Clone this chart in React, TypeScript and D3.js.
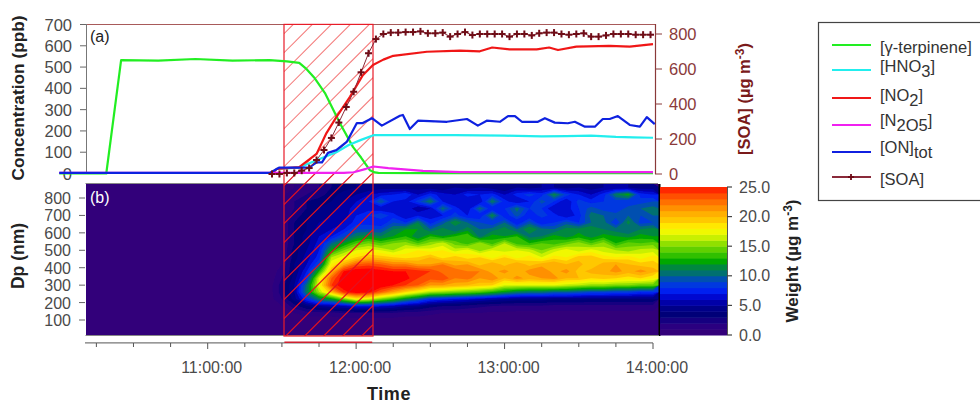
import React from "react";
import * as d3 from "d3";

// minutes after 10:00
const terpT = [0, 19, 25, 40, 55, 70, 85, 92, 97, 100, 103.3, 107.4, 113.4, 118.7, 122, 125.6, 127.5, 129, 150, 240];
const terpV = [0, 0, 533, 530, 538, 530, 533, 527, 520, 490, 447, 378, 237, 125, 75, 15, 5, 3, 2, 2];
const hno3T = [86, 88, 97, 104, 112, 117, 122, 127, 131, 160, 180, 195, 205, 215, 225, 232, 240];
const hno3V = [0, 22, 28, 62, 100, 134, 158, 180, 180, 180, 178, 174, 176, 178, 172, 170, 168];
const no2T = [86, 88, 97, 104, 108, 112, 117.5, 122.7, 126.8, 131, 135, 148.6, 162, 170, 175, 182, 193, 198, 201.6, 209, 222.5, 230.6, 240];
const no2V = [0, 22, 30, 92, 190, 265, 360, 462, 510, 535, 553, 572, 577, 574, 592, 583, 583, 592, 580, 596, 600, 596, 608];
const n2o5T = [0, 115, 119, 124, 127, 133, 147, 162, 240];
const n2o5V = [3, 3, 6, 22, 33, 25, 12, 6, 6];
const ontotT = [0, 85, 87, 89, 101, 104, 106.2, 108.6, 112, 116.3, 120.3, 122.7, 126.4, 130.4, 137.7, 138.9, 141.7, 145, 156.7, 164.8, 169.2, 172.8, 178.1, 181.4, 184.2, 187, 193.5, 196.3, 200.3, 205.6, 208.4, 212.5, 216.5, 219.7, 222.5, 225.8, 230.6, 234.7, 237.5, 240.7];
const ontotV = [3, 3, 15, 28, 28, 52, 52, 97, 110, 150, 237, 237, 260, 225, 271, 275, 209, 248, 243, 256, 225, 248, 243, 270, 270, 243, 243, 260, 239, 236, 243, 220, 220, 256, 256, 270, 228, 220, 265, 232];
const soaT = d3.range(86, 241, 3);
const soaV = [0, 0, 6, 6, 19, 34, 80, 137, 206, 294, 383, 470, 581, 690, 771,
  800, 808, 808, 811, 811, 815, 804, 804, 808, 785, 800, 811, 794, 800, 800, 800, 800, 785, 800, 800, 792, 804, 808, 808, 800, 796, 800, 804, 785, 785, 792, 800, 800, 800, 796, 796, 796];

const leftTicks = [0, 100, 200, 300, 400, 500, 600, 700];
const rightTicks = [0, 200, 400, 600, 800];
const dpTicks = [100, 200, 300, 400, 500, 600, 700, 800];
const weightTicks = [0, 5, 10, 15, 20, 25];
const timeMajor = [60, 120, 180, 240];
const timeLabels = ["11:00:00", "12:00:00", "13:00:00", "14:00:00"];
const timeMinor = [15, 30, 45, 75, 90, 105, 135, 150, 165, 195, 210, 225];

// size rows (nm), top to bottom
const heatDp = [860, 820, 780, 740, 700, 660, 620, 580, 540, 500, 460, 420, 380, 340, 300, 260, 220, 180, 140, 100, 60, 20];
// one line per 5-minute column, from 11:25 to 14:00
const heatCols = [
  [.3, .3, .3, .3, .3, .3, .3, .3, .3, .3, .3, .3, .3, .3, .5, .5, .5, .3, .3, .3, .3, .3],
  [.5, .8, 1, 1, 1, 1, 1, 1, 1, 1, 1, 1, 1.5, 2, 2.5, 2.5, 2, 1, .5, .5, .3, .3],
  [1, 1.5, 2, 2, 2.5, 3, 3, 3, 3, 3.5, 3.5, 4, 4, 4.5, 5, 5, 4.5, 2.5, 1, .5, .3, .3],
  [1.5, 2, 3, 3, 3.5, 4, 4, 4.5, 4.5, 5, 5.5, 6, 7, 8, 10.5, 11, 8, 4, 1.5, .5, .3, .3],
  [2, 2.5, 3.5, 4, 4.5, 5, 5.5, 6, 6.5, 7, 7.5, 9, 13, 17, 17.5, 16, 11, 5, 1.5, .5, .3, .3],
  [3, 3.5, 4, 4.5, 5, 5.5, 6, 7, 10, 12.5, 16, 18, 20, 23, 24, 20, 12, 5.5, 1.5, .5, .3, .3],
  [3.5, 4.5, 5, 5.5, 5.5, 6, 7, 9, 12, 15, 17.5, 20.5, 25, 26, 26, 24.5, 15, 6, 2, .6, .3, .3],
  [4, 5, 6, 6.5, 7, 7.5, 9, 11, 14, 17, 19, 23, 26, 26.5, 26.5, 26, 18, 7, 2, .6, .3, .3],
  [4, 6, 7, 6.5, 8, 7.5, 9, 12, 15, 17.5, 20, 23.5, 26, 27, 27, 25.5, 17, 7, 2, .6, .3, .3],
  [4.5, 6.5, 10, 6, 9, 7, 9, 11, 14, 17, 19.5, 23, 25.5, 26.5, 26, 23, 15, 6.5, 2, .6, .3, .3],
  [4.5, 7, 7, 6, 7.5, 9, 11, 12, 15, 16, 19, 22, 25, 26, 25, 21, 13.5, 6, 1.8, .6, .3, .3],
  [4, 8, 6.5, 7, 6, 8, 12, 13, 15.5, 17.5, 18.5, 22, 25, 25.5, 24, 19, 11.5, 5, 1.5, .5, .3, .3],
  [4.5, 6, 8.5, 5, 7, 11, 12, 11, 14, 18, 19, 21, 24.5, 24, 23, 17.5, 10, 4.5, 1.5, .5, .3, .3],
  [4.5, 7.5, 11, 6, 6.5, 7.5, 10, 13, 15.5, 17.5, 20, 21, 24, 23.5, 21, 16, 8, 3.5, 1.2, .5, .3, .3],
  [4, 6.5, 7, 10.5, 7, 9.5, 11.5, 12, 16.5, 18, 18.5, 22, 22.5, 24, 21, 15.5, 7.5, 3, 1, .4, .3, .3],
  [5, 6, 6, 7.5, 8.5, 12, 10, 13, 14.5, 16.5, 19.5, 20.5, 23, 22, 20.5, 15, 7, 3, 1, .4, .3, .3],
  [4.5, 7.5, 6, 6, 7, 10, 11.5, 14, 13.5, 17.5, 18.5, 21, 22, 22.5, 20, 14.5, 6.5, 2.5, 1, .4, .3, .3],
  [5, 7, 6, 10.5, 7, 9, 10, 10.5, 15.5, 15.5, 19, 19.5, 22, 21, 19.5, 14, 6, 2.2, 1, .4, .3, .3],
  [4.5, 7.5, 11, 7, 11.5, 8, 10.5, 12.5, 13.5, 17, 17.5, 21, 20.5, 22, 19, 13, 5.5, 2, .8, .4, .3, .3],
  [4, 6, 7.5, 8, 7, 10, 11.5, 12, 16, 16.5, 19, 19.5, 21.5, 20, 17, 12, 5, 1.8, .8, .4, .3, .3],
  [5, 7.5, 6, 10.5, 9.5, 7, 10, 13, 13.5, 17, 17.5, 21, 20, 21.5, 17, 11, 4.5, 1.8, .7, .4, .3, .3],
  [4.5, 8.5, 7, 8, 7, 9.5, 12, 10.5, 13, 16.5, 18.5, 19.5, 21.5, 20.5, 17, 10.5, 4.5, 1.8, .7, .4, .3, .3],
  [5, 7.5, 9.5, 8, 8.5, 7, 10.5, 11, 14, 15, 17, 20.5, 22, 21, 17, 10.5, 4.5, 1.8, .7, .4, .3, .3],
  [5, 11.5, 8, 6, 7.5, 8, 10, 12.5, 13.5, 16.5, 18.5, 21, 20.5, 21.5, 17, 10, 4.2, 1.6, .7, .4, .3, .3],
  [4.5, 8.5, 6, 6.5, 6, 9.5, 11.5, 11.5, 14.5, 17.5, 18, 20, 21.5, 20, 16.5, 10, 4.2, 1.6, .7, .4, .3, .3],
  [5, 7, 8.5, 8, 7.5, 8, 11.5, 12.5, 15.5, 16.5, 19.5, 20.5, 19.5, 20, 16, 9.5, 4.2, 1.6, .7, .4, .3, .3],
  [4.5, 6, 7.5, 9.5, 10.5, 10, 12, 11.5, 14, 17.5, 19.5, 19, 20.5, 19, 15.5, 9, 4, 1.6, .7, .4, .3, .3],
  [5, 7.5, 8, 8.5, 10, 10.5, 11, 12.5, 15.5, 16.5, 18.5, 20.5, 20.5, 19.5, 15.5, 9, 4, 1.6, .7, .4, .3, .3],
  [5, 11, 8.5, 8, 9.5, 8, 10.5, 12, 13, 16, 18, 21, 21.5, 19, 15, 8.5, 4, 1.5, .8, .4, .3, .3],
  [5, 12.5, 8, 9.5, 10, 11.5, 10, 11.5, 14.5, 15.5, 18.5, 20, 20.5, 18.5, 15, 8.5, 4, 1.5, .8, .4, .3, .3],
  [4.5, 7.5, 8.5, 10, 9, 8.5, 11, 12.5, 14, 16.5, 17.5, 19.5, 21.5, 19, 14.5, 8, 4, 1.5, .8, .4, .3, .3],
  [4.5, 7, 9, 10.5, 10, 9, 11.5, 12, 14.5, 16.5, 18.5, 19.5, 20.5, 18, 14.5, 8, 4, 1.5, .8, .4, .3, .3],
];

const levelColors = ["#33007a", "#2a0080", "#150080", "#000078", "#000088", "#0000a8", "#0008d0", "#0020f0", "#0038e0", "#0050b0", "#007070", "#008840", "#00a800", "#30c000", "#60d000", "#90e000", "#c8f000", "#f0f800", "#ffe800", "#ffc800", "#ffb000", "#ff9000", "#ff7000", "#ff5000", "#ff2800", "#ff0000"];

const legendY = [45, 70, 98, 125, 152, 177];
const GREEN = "#22ee22", CYAN = "#22eeee", RED = "#f01818", MAG = "#f020f0", BLUE = "#1020e0", SOA = "#6e0814";

const FONT = "'Liberation Sans', Arial, sans-serif";
const GRAY = "#4a4a4a";
const MAROON = "#8a3a3a";

const x = d3.scaleLinear().domain([60, 240]).range([207.7, 653]);
const yC = d3.scaleLinear().domain([0, 700]).range([173.5, 24.5]);
const yS = d3.scaleLinear().domain([0, 800]).range([174, 34]);
const yDp = d3.scaleLinear().domain([100, 800]).range([320, 198]);
const yW = d3.scaleLinear().domain([0, 25]).range([335, 187]);

function pathOf(ts: number[], vs: number[], y: (v: number) => number) {
  return d3.line<number>().x((t) => x(t)).y((_, i) => y(vs[i]))(ts) as string;
}

const nCols = heatCols.length, nRows = heatDp.length;
const flat: number[] = [];
for (let r = 0; r < nRows; r++) for (let c = 0; c < nCols; c++) flat.push(heatCols[c][r]);
const contourSet = d3.contours().size([nCols, nRows]).thresholds(d3.range(1, 26))(flat);
const geo = d3.geoPath(d3.geoTransform({
  point(px: number, py: number) {
    (this as any).stream.point(x(85 + (px - 0.5) * 5), yDp(860 - (py - 0.5) * 40));
  },
}));

const H = { x0: 284, x1: 373, y0: 24.4, y1: 336 };
const hatchOffsets = d3.range(-14, 9).map((i) => 191.7 + i * 19);

function Hatch({ stroke, width }: { stroke: string; width: number }) {
  return (
    <>
      {hatchOffsets.map((o, i) => (
        <line key={i} x1={H.x0} x2={H.x1} y1={o + (H.x1 - H.x0)} y2={o} stroke={stroke} strokeWidth={width} />
      ))}
    </>
  );
}

export default function App() {
  return (
    <svg width={980} height={404} style={{ position: "absolute", left: 0, top: 0, background: "#fff", fontFamily: FONT }}>
      <defs>
        <clipPath id="heatClip"><rect x={86} y={184} width={573} height={151} /></clipPath>
        <clipPath id="hatchTop"><rect x={H.x0} y={H.y0} width={H.x1 - H.x0} height={174 - H.y0} /></clipPath>
        <clipPath id="hatchBot"><rect x={H.x0} y={174} width={H.x1 - H.x0} height={H.y1 - 174} /></clipPath>
        <filter id="soft" x="-2%" y="-2%" width="104%" height="104%"><feGaussianBlur stdDeviation="0.7" /></filter>
        <filter id="softer" x="-2%" y="-2%" width="104%" height="104%"><feGaussianBlur stdDeviation="0.4" /></filter>
      </defs>

      {/* heat map */}
      <g clipPath="url(#heatClip)">
        <g filter="url(#soft)">
          <rect x={80} y={180} width={585} height={160} fill={levelColors[0]} />
          {contourSet.map((c: any, i: number) => (
            <path key={i} d={geo(c) as string} fill={levelColors[c.value]} />
          ))}
        </g>
      </g>
      <line x1={85.5} x2={658} y1={183.5} y2={183.5} stroke="#888" strokeWidth={1.2} />
      <line x1={85.5} x2={658} y1={335.5} y2={335.5} stroke="#888" strokeWidth={1.2} />
      <line x1={659.5} x2={659.5} y1={184} y2={336} stroke="#000" strokeWidth={2} />

      {/* colour bar */}
      {levelColors.slice(0, 25).map((c, i) => (
        <rect key={i} x={660} width={67} y={yW(i + 1)} height={yW(i) - yW(i + 1) + 0.5} fill={c} />
      ))}
      <line x1={727.5} x2={727.5} y1={187} y2={335} stroke="#555" />
      {weightTicks.map((t) => (
        <g key={t}>
          <line x1={727} x2={732} y1={yW(t)} y2={yW(t)} stroke="#444" strokeWidth={1.2} />
          <text x={739} y={yW(t) + 5.5} fontSize={16} fill={GRAY}>{t.toFixed(1)}</text>
        </g>
      ))}
      <text transform="translate(798,261) rotate(-90)" textAnchor="middle" fontSize={17} fontWeight="bold" fill="#222">
        Weight (µg m<tspan dy={-6} fontSize={12}>-3</tspan><tspan dy={6}>)</tspan>
      </text>

      {/* top panel frame */}
      <line x1={86} x2={655} y1={24.5} y2={24.5} stroke="#a85a5a" strokeWidth={1.2} />
      <line x1={86.5} x2={86.5} y1={24} y2={174} stroke="#777" />
      <line x1={655.5} x2={655.5} y1={24} y2={174} stroke={MAROON} strokeWidth={1.2} />
      {leftTicks.map((t) => (
        <g key={t}>
          <line x1={80} x2={86} y1={yC(t)} y2={yC(t)} stroke="#666" />
          <text x={72} y={yC(t) + 6} textAnchor="end" fontSize={16.5} fill={GRAY}>{t}</text>
        </g>
      ))}
      {rightTicks.map((t) => (
        <g key={t}>
          <line x1={655} x2={662} y1={yS(t)} y2={yS(t)} stroke={MAROON} />
          <text x={669} y={yS(t) + 6} fontSize={16.5} fill={MAROON}>{t}</text>
        </g>
      ))}
      <text transform="translate(24,98) rotate(-90)" textAnchor="middle" fontSize={17.3} fontWeight="bold" fill="#222">Concentration (ppb)</text>
      <text transform="translate(750,99) rotate(-90)" textAnchor="middle" fontSize={16.5} fontWeight="bold" fill="#7a1a1a">
        [SOA] (µg m<tspan dy={-6} fontSize={12}>-3</tspan><tspan dy={6}>)</tspan>
      </text>

      {/* hatched window */}
      <g clipPath="url(#hatchTop)"><Hatch stroke="#f47c7c" width={1.1} /></g>
      <g clipPath="url(#hatchBot)"><Hatch stroke="#e4101f" width={1.2} /></g>
      <rect x={H.x0} y={H.y0} width={H.x1 - H.x0} height={H.y1 - H.y0} fill="none" stroke="#e81c28" strokeWidth={1.2} />

      {/* lines */}
      <g fill="none" strokeWidth={2.2} strokeLinejoin="round" filter="url(#softer)">
        <path d={pathOf(terpT, terpV, yC)} stroke={GREEN} />
        <path d={pathOf(hno3T, hno3V, yC)} stroke={CYAN} />
        <path d={pathOf(no2T, no2V, yC)} stroke={RED} />
        <path d={pathOf(n2o5T, n2o5V, yC)} stroke={MAG} />
        <path d={pathOf(ontotT, ontotV, yC)} stroke={BLUE} />
        <path d={pathOf(soaT, soaV, yS)} stroke="#8a2a3a" strokeWidth={1} />
        {soaT.map((t, i) => (
          <g key={t} stroke={SOA} strokeWidth={2}>
            <line x1={x(t) - 3.5} x2={x(t) + 3.5} y1={yS(soaV[i])} y2={yS(soaV[i])} />
            <line x1={x(t)} x2={x(t)} y1={yS(soaV[i]) - 3.5} y2={yS(soaV[i]) + 3.5} />
          </g>
        ))}
      </g>

      {/* Dp axis */}
      {dpTicks.map((t) => (
        <g key={t}>
          <line x1={79} x2={85} y1={yDp(t)} y2={yDp(t)} stroke="#666" />
          <text x={71} y={yDp(t) + 6} textAnchor="end" fontSize={16} fill={GRAY}>{t}</text>
        </g>
      ))}
      <text transform="translate(24,256) rotate(-90)" textAnchor="middle" fontSize={17.5} fontWeight="bold" fill="#222">Dp (nm)</text>

      <text x={90} y={42} fontSize={16} fill="#222">(a)</text>
      <text x={90} y={203} fontSize={16} fill="#fff">(b)</text>

      {/* time axis */}
      <line x1={85} x2={653} y1={342.8} y2={342.8} stroke="#777" strokeWidth={1.2} />
      <line x1={x(91)} x2={x(126.5)} y1={342.3} y2={342.3} stroke="#d02030" strokeWidth={1.4} />
      {timeMinor.map((t) => (
        <line key={t} x1={x(t)} x2={x(t)} y1={343} y2={347} stroke="#555" />
      ))}
      {timeMajor.map((t, i) => (
        <g key={t}>
          <line x1={x(t)} x2={x(t)} y1={343} y2={349} stroke="#555" />
          <text x={x(t) + 4} y={372.5} textAnchor="middle" fontSize={16} fill={GRAY}>{timeLabels[i]}</text>
        </g>
      ))}
      <text x={389} y={400} textAnchor="middle" fontSize={18} letterSpacing={0.6} fontWeight="bold" fill="#222">Time</text>

      {/* legend */}
      <rect x={818.5} y={22.5} width={170} height={178} fill="#fff" stroke="#444" strokeWidth={1.2} />
      {[GREEN, CYAN, RED, MAG, BLUE, "#8a2a3a"].map((c, i) => (
        <line key={i} x1={832} x2={871} y1={legendY[i]} y2={legendY[i]} stroke={c} strokeWidth={1.8} />
      ))}
      <g stroke={SOA} strokeWidth={1.8}>
        <line x1={848} x2={854} y1={177} y2={177} />
        <line x1={851} x2={851} y1={174} y2={180} />
      </g>
      <g fontSize={16.5} fill="#333">
        <text x={880} y={53}>[γ-terpinene]</text>
        <text x={880} y={72}>[HNO<tspan dy={5}>3</tspan><tspan dy={-5}>]</tspan></text>
        <text x={880} y={101}>[NO<tspan dy={5}>2</tspan><tspan dy={-5}>]</tspan></text>
        <text x={880} y={126}>[N<tspan dy={5}>2</tspan>O<tspan>5</tspan><tspan dy={-5}>]</tspan></text>
        <text x={880} y={153}>[ON]<tspan dy={5}>tot</tspan></text>
        <text x={880} y={185}>[SOA]</text>
      </g>
    </svg>
  );
}
